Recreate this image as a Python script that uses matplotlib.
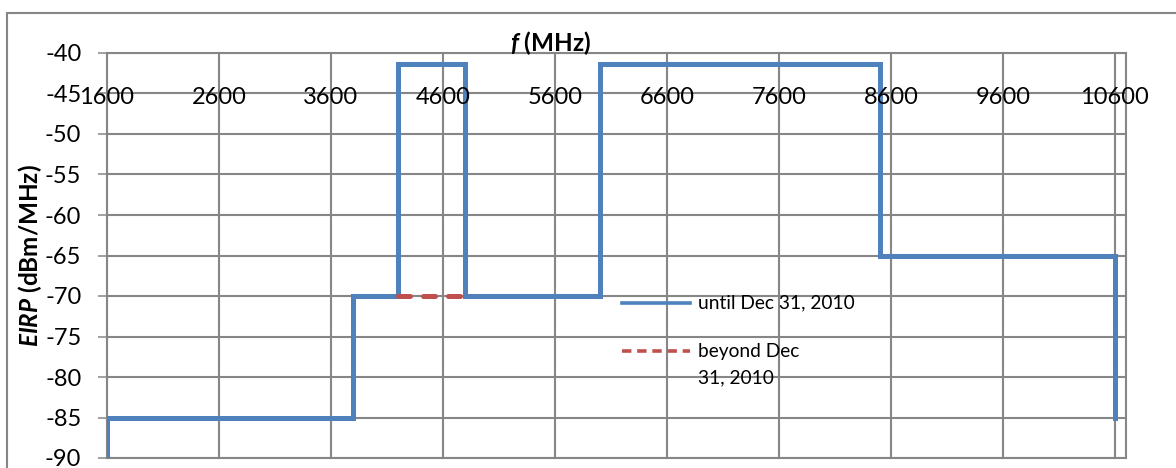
import matplotlib
matplotlib.use("Agg")
from matplotlib import pyplot as plt
from matplotlib.lines import Line2D
from matplotlib.patches import Rectangle
import numpy as np

# step mask, values
until_f = [1600, 1600, 3800, 3800, 4200, 4200, 4800, 4800, 6000, 6000, 8500, 8500, 10600, 10600]
until_eirp = [-90, -85, -85, -70, -70, -41.3, -41.3, -70, -70, -41.3, -41.3, -65, -65, -85]
beyond_f = [4200, 4800]
beyond_eirp = [-70, -70]
x_ticks = [1600, 2600, 3600, 4600, 5600, 6600, 7600, 8600, 9600, 10600]
y_ticks = [-90, -85, -80, -75, -70, -65, -60, -55, -50, -45, -40]

BLUE = "#4F81BD"
RED = "#C0504D"
GRID = "#868686"

plt.rcParams['font.family'] = ['Lato', 'DejaVu Sans']
plt.rcParams['axes.unicode_minus'] = False
plt.rcParams['mathtext.fontset'] = 'custom'
plt.rcParams['mathtext.it'] = 'Lato:italic:bold'
plt.rcParams['mathtext.rm'] = 'Lato:bold'

W, H = 1176, 468
fig = plt.figure(figsize=(W / 100, H / 100), dpi=100)
ax = fig.add_axes([107 / W, 1 - 458 / H, (1126 - 107) / W, (458 - 53) / H])

ax.plot(until_f, until_eirp, color=BLUE, lw=3.6, solid_joinstyle='miter', zorder=3)
ax.plot(beyond_f, beyond_eirp, color=RED, lw=3.6, linestyle=(0, (2.4, 2.6)),
        dash_capstyle='round', zorder=4)

ax.set_xlim(1600, 10700)
ax.set_ylim(-90, -40)
ax.set_xticks(x_ticks)
ax.set_yticks(y_ticks)
ax.grid(True, color=GRID, lw=1.5, zorder=0)
for s in ax.spines.values():
    s.set_color(GRID)
    s.set_linewidth(1.5)
ax.tick_params(axis='x', length=0, labelbottom=False)
ax.tick_params(axis='y', length=6.5, width=1.1, color=GRID, pad=12, labelsize=17)

# x tick labels sit on the -45 line, Excel style
for xt in x_ticks:
    ax.text(xt, -45.45, str(xt), ha='center', va='center', fontsize=17, zorder=5)

fig.text(551 / W, 1 - 43 / H, r'$f$ (MHz)', ha='center', va='center',
         fontsize=17.5, fontweight='bold')
fig.text(30 / W, 1 - 256 / H, r'$EIRP$ (dBm/MHz)', ha='center', va='center',
         rotation=90, fontsize=17.5, fontweight='bold')

# legend drawn by hand
fig.add_artist(Line2D([622 / W, 690 / W], [1 - 303 / H, 1 - 303 / H], color=BLUE, lw=2.6))
fig.add_artist(Line2D([622 / W, 690 / W], [1 - 351 / H, 1 - 351 / H], color=RED, lw=2.6,
                      linestyle=(0, (2.6, 1.6))))
fig.text(698 / W, 1 - 303 / H, 'until Dec 31, 2010', ha='left', va='center', fontsize=13.8)
fig.text(698 / W, 1 - 351 / H, 'beyond Dec', ha='left', va='center', fontsize=13.8)
fig.text(698 / W, 1 - 378 / H, '31, 2010', ha='left', va='center', fontsize=13.8)

# outer chart frame
fig.add_artist(Rectangle((7 / W, -0.1), 1.2, 1 - 13 / H + 0.1, fill=False,
                         edgecolor=GRID, lw=1.5, transform=fig.transFigure))

fig.savefig("out.png", dpi=100)
